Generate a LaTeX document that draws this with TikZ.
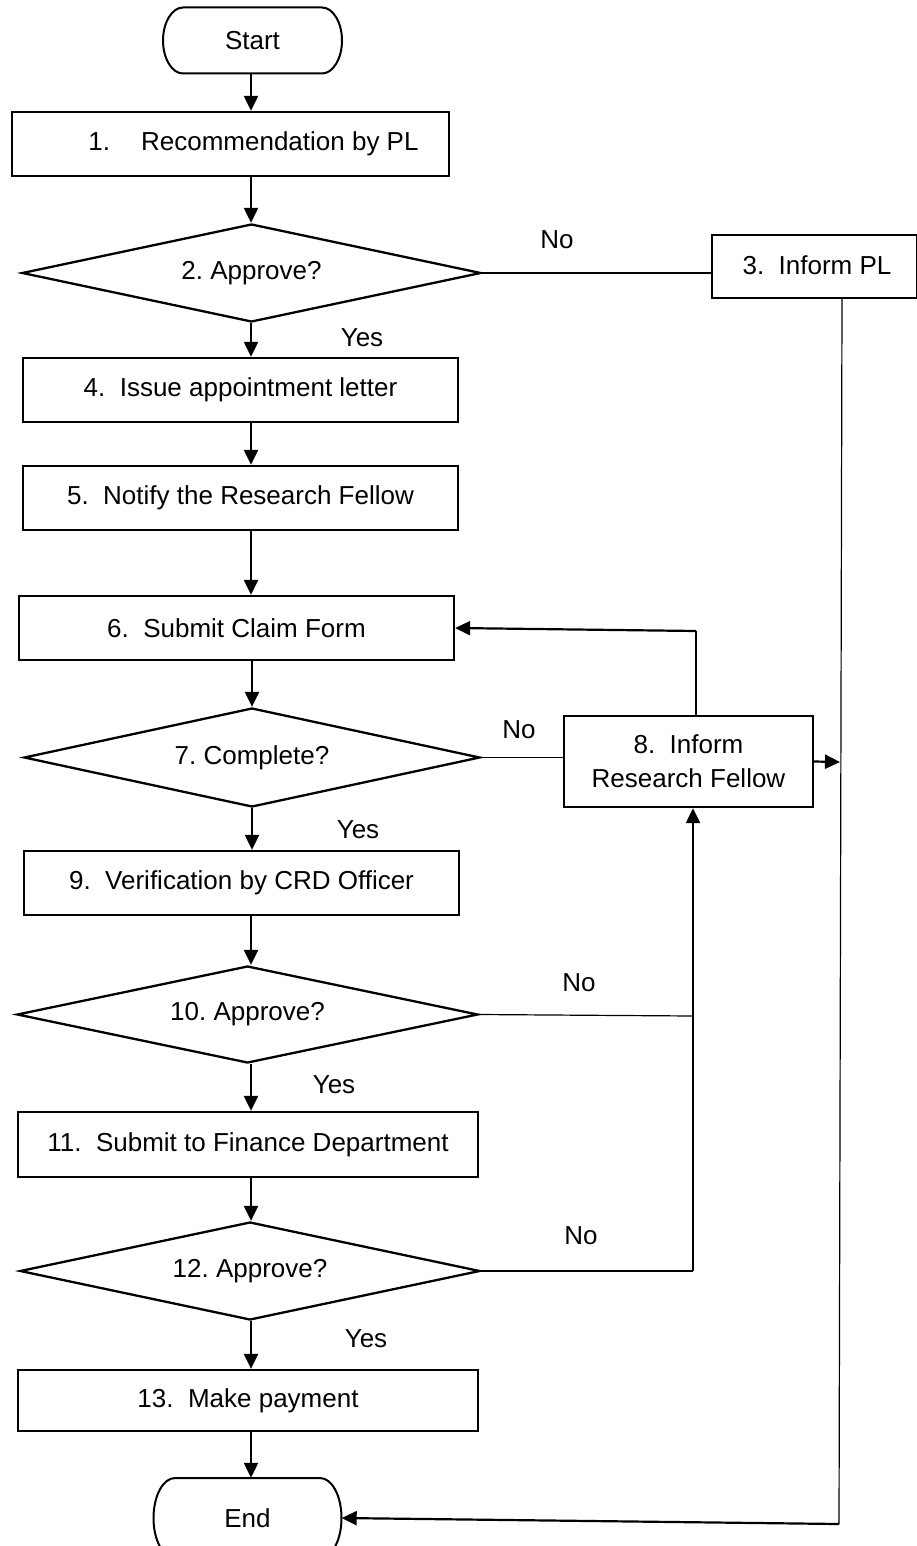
\documentclass[tikz,border=0pt]{standalone}
\usepackage{fontspec}
\setmainfont{Liberation Sans}
\frenchspacing
\usetikzlibrary{shapes.geometric,arrows.meta}
\begin{document}
\begin{tikzpicture}[x=1pt,y=-1pt,
  font=\fontsize{26}{34}\selectfont,
  box/.style={draw,line width=2.3pt,rectangle,inner sep=0pt,align=center},
  dec/.style={draw,line width=2.3pt,diamond,inner sep=0pt,shape aspect=4.7},
  termtext/.style={rectangle,inner sep=0pt},
  termline/.style={line width=2pt},
  arr/.style={line width=2.2pt,-{Triangle[length=15pt,width=14pt]}},
  thinline/.style={line width=1.2pt},
  lab/.style={inner sep=0pt}]
\useasboundingbox (0,0) rectangle (916,1546);
\coordinate (col) at (251,0);

% terminals (outline drawn with elliptical ends)
\draw[termline] (183,7.5) -- (322,7.5)
  .. controls (333,7.5) and (342,22.5) .. (342,40.5)
  .. controls (342,58.5) and (333,73.5) .. (322,73.5)
  -- (183,73.5)
  .. controls (172,73.5) and (163,58.5) .. (163,40.5)
  .. controls (163,22.5) and (172,7.5) .. (183,7.5) -- cycle;
\node[termtext,minimum width=179pt,minimum height=66pt] (start) at (252.5,40.5) {Start};

\draw[termline] (175,1478) -- (320,1478)
  .. controls (332,1478) and (341.5,1496) .. (341.5,1518)
  .. controls (341.5,1540) and (332,1558) .. (320,1558)
  -- (175,1558)
  .. controls (163,1558) and (153.5,1540) .. (153.5,1518)
  .. controls (153.5,1496) and (163,1478) .. (175,1478) -- cycle;
\node[termtext,minimum width=188pt,minimum height=80pt] (end) at (247.5,1518) {\raisebox{-2pt}{End}};

% process boxes
\node[box,minimum width=437pt,minimum height=64pt] (b1) at (230.5,144) {\hspace*{46pt}1.\hspace{31pt}Recommendation by PL};
\node[box,minimum width=205pt,minimum height=63pt] (b3) at (814.5,266.5) {\raisebox{3pt}{\hspace*{5pt}3.~~Inform PL}};
\node[box,minimum width=435pt,minimum height=64pt] (b4) at (240.5,390) {4.~~Issue appointment letter};
\node[box,minimum width=435pt,minimum height=64pt] (b5) at (240.5,498) {5.~~Notify the Research Fellow};
\node[box,minimum width=435pt,minimum height=64pt] (b6) at (236.5,628) {6.~~Submit Claim Form};
\node[box,minimum width=249pt,minimum height=91pt] (b8) at (688.5,761.5) {8.~~Inform\\Research Fellow};
\node[box,minimum width=435pt,minimum height=64pt] (b9) at (241.5,883) {9.~~Verification by CRD Officer};
\node[box,minimum width=460pt,minimum height=65pt] (b11) at (248,1144.5) {11.~~Submit to Finance Department};
\node[box,minimum width=460pt,minimum height=61pt] (b13) at (248,1400.5) {13.~~Make payment};

% decisions
\node[dec,minimum width=459pt,minimum height=98pt] (d2) at (251.5,273) {\raisebox{-4pt}{2. Approve?}};
\node[dec,minimum width=456pt,minimum height=99pt] (d7) at (252,757.5) {\raisebox{-4pt}{7. Complete?}};
\node[dec,minimum width=461pt,minimum height=97pt] (d10) at (247.5,1014.5) {\raisebox{-5.5pt}{10. Approve?}};
\node[dec,minimum width=460pt,minimum height=98pt] (d12) at (250,1271) {\raisebox{-5pt}{12. Approve?}};

% labels
\node[lab] (n2) at (557,240) {No};
\node[lab] (y2) at (362,338) {Yes};
\node[lab] (n7) at (519,730) {No};
\node[lab] (y7) at (358,830) {Yes};
\node[lab] (n10) at (579,983) {No};
\node[lab] (y10) at (334,1085) {Yes};
\node[lab] (n12) at (581,1236) {No};
\node[lab] (y12) at (366,1339) {Yes};

% helper coordinates
\coordinate (r3top) at (842,298);
\coordinate (rbot) at (839,1524);
\coordinate (r8) at (840,762);
\coordinate (up8) at (696,631);
\coordinate (j10) at (693,1016);
\coordinate (j12) at (693,1271);

% main flow
\draw[arr] (start.south -| col) -- (b1.north -| col);
\draw[arr] (b1.south -| col) -- (d2.north -| col);
\draw[arr] (d2.south -| col) -- (b4.north -| col);
\draw[arr] (b4.south -| col) -- (b5.north -| col);
\draw[arr] (b5.south -| col) -- (b6.north -| col);
\draw[arr] (b6.south -| d7.north) -- (d7.north);
\draw[arr] (d7.south) -- (d7.south |- b9.north);
\draw[arr] (b9.south -| col) -- (d10.north -| col);
\draw[arr] (d10.south -| col) -- (b11.north -| col);
\draw[arr] (b11.south -| col) -- (d12.north -| col);
\draw[arr] (d12.south -| col) -- (b13.north -| col);
\draw[arr] (b13.south -| col) -- (end.north -| col);

% No branches
\draw[thinline] (d2.east) -- (d2.east -| b3.west);
\draw[thinline] (r3top) -- (rbot);
\draw[arr] (rbot) -- (end.east);

\draw[thinline] (d7.east) -- (d7.east -| b8.west);
\draw[thinline] (up8 |- b8.north) -- (up8);
\draw[arr] (up8) -- (b6.east);
\draw[arr] (b8.east) -- (r8);

\draw[thinline] (d10.east) -- (j10);
\draw[thinline] (d12.east) -- (j12);
\draw[arr] (j12) -- (j12 |- b8.south);
\end{tikzpicture}
\end{document}
